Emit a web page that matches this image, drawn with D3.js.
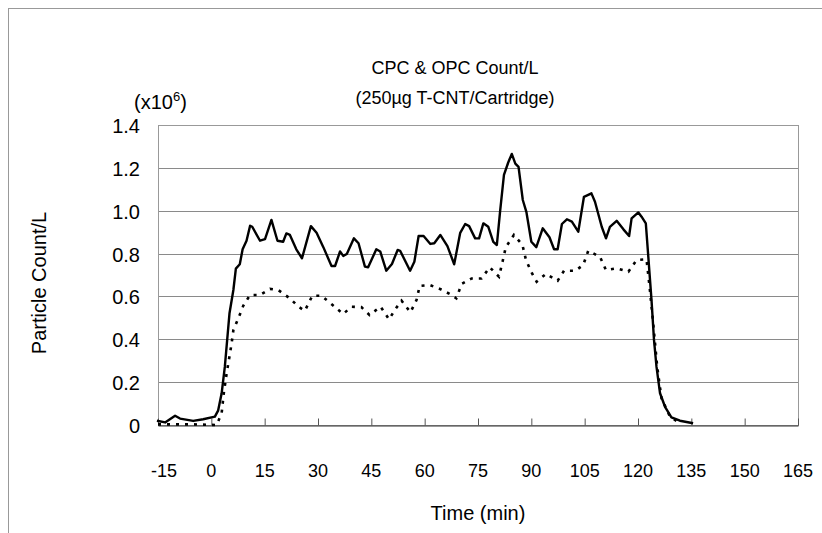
<!DOCTYPE html>
<html>
<head>
<meta charset="utf-8">
<script src="https://cdn.jsdelivr.net/npm/d3@7"></script>
<style>
	body { margin: 0; background: #fff; }
	text { font-family: Arial, "Liberation Sans", sans-serif; fill: #000; }
</style>
</head>
<body>
<div id="chart"></div>
<script>
// CPC (solid) readings: time in minutes, count in millions per litre
let cpcTime = [-15.3, -13, -10.2, -8.8, -5.1, -2.3, 1.0, 1.9, 2.9, 3.8, 5.1, 6.2, 6.9, 8.0, 8.8, 9.9, 10.9, 11.5,
	13.7, 15.1, 16.9, 18.6, 20.2, 21.1, 22.1, 23.9, 25.5, 28.0, 29.6, 31.5, 33.8, 34.8, 36.2, 37.1, 38.1,
	40.1, 41.4, 43.2, 44.1, 46.4, 47.5, 49.2, 50.8, 52.4, 53.1, 55.9, 57.1, 58.3, 59.7, 61.6, 62.7, 64.4,
	66.4, 68.3, 70.0, 71.4, 72.5, 74.2, 75.3, 76.5, 77.9, 79.3, 80.3, 81.2, 82.3, 83.5, 84.5, 85.5, 86.4,
	87.6, 88.6, 90.0, 91.4, 93.2, 95.1, 96.4, 97.4, 98.6, 100.0, 101.4, 103.2, 104.8, 106.9, 107.9, 109.8,
	111.0, 112.1, 114.0, 115.9, 117.5, 118.2, 120.1, 121.0, 122.2, 122.9, 123.8, 124.5, 125.2, 126.2,
	127.6, 129.4, 131.8, 135.5];
let cpcValue = [0.02, 0.012, 0.043, 0.03, 0.019, 0.027, 0.039, 0.067, 0.148, 0.272, 0.52, 0.63, 0.73, 0.75, 0.82, 0.86, 0.93, 0.925,
	0.86, 0.867, 0.957, 0.86, 0.855, 0.894, 0.887, 0.82, 0.778, 0.928, 0.897, 0.83, 0.742, 0.742, 0.81, 0.789, 0.798,
	0.871, 0.848, 0.739, 0.736, 0.82, 0.81, 0.72, 0.751, 0.817, 0.813, 0.72, 0.762, 0.882, 0.882, 0.845, 0.848, 0.887,
	0.835, 0.75, 0.897, 0.938, 0.928, 0.871, 0.871, 0.941, 0.925, 0.855, 0.84, 0.995, 1.167, 1.225, 1.265, 1.22, 1.205,
	1.05, 0.995, 0.855, 0.83, 0.918, 0.876, 0.82, 0.82, 0.938, 0.96, 0.949, 0.902, 1.065, 1.081, 1.042, 0.925,
	0.871, 0.925, 0.953, 0.913, 0.882, 0.964, 0.992, 0.972, 0.941, 0.785, 0.583, 0.397, 0.272, 0.148,
	0.085, 0.036, 0.02, 0.008];

// OPC (dotted) readings
let opcTime = [-15, -5, 1.5, 2.9, 3.5, 4.3, 5.1, 5.7, 6.2, 7.6, 9.0, 10.9, 13.7, 16.5, 18.8, 22.1, 24.5, 26.3, 28.4,
	31.0, 34.1, 37.1, 39.4, 42.2, 44.5, 47.6, 50.0, 51.6, 53.5, 56.0, 57.7, 58.6, 61.5, 64.3, 67.1, 68.9, 70.4,
	73.2, 76.0, 78.3, 80.9, 81.9, 82.8, 85.1, 87.5, 88.5, 90.1, 91.5, 94.1, 97.4, 99.2, 102.4, 104.6, 106.0,
	109.3, 111.0, 114.0, 117.3, 119.6, 122.4, 123.3, 124.1, 124.7, 125.4, 126.6, 129.0, 131.8];
let opcValue = [0.003, 0.003, 0.0, 0.055, 0.148, 0.24, 0.32, 0.38, 0.443, 0.498, 0.557, 0.607, 0.607, 0.635, 0.63, 0.591, 0.552, 0.533, 0.603,
	0.603, 0.56, 0.518, 0.552, 0.55, 0.513, 0.552, 0.493, 0.537, 0.58, 0.526, 0.583, 0.649, 0.653, 0.635, 0.611, 0.591, 0.658,
	0.684, 0.684, 0.736, 0.692, 0.762, 0.829, 0.887, 0.84, 0.77, 0.711, 0.669, 0.705, 0.673, 0.72, 0.72, 0.747, 0.813,
	0.785, 0.723, 0.731, 0.715, 0.77, 0.773, 0.638, 0.505, 0.397, 0.272, 0.125, 0.039, 0.008];

let xTicks = [-15, 0, 15, 30, 45, 60, 75, 90, 105, 120, 135, 150, 165];
let yTicks = [0, 0.2, 0.4, 0.6, 0.8, 1.0, 1.2, 1.4];

let width = 822;
let height = 533;
let plot = {left: 158, right: 798, top: 125, bottom: 425};

let xScale = d3.scaleLinear().domain([-15, 165]).range([plot.left, plot.right]);
let yScale = d3.scaleLinear().domain([0, 1.4]).range([plot.bottom, plot.top]);

let svg = d3.select('#chart')
		.append('svg')
		.attr('width', width)
		.attr('height', height);

// Outer chart frame (only top and left edges visible)
svg.append('rect')
		.attr('x', 8.5).attr('y', 8.5)
		.attr('width', 900).attr('height', 600)
		.attr('fill', 'none')
		.attr('stroke', '#999');

// Horizontal gridlines
svg.append('g').selectAll('line')
		.data(yTicks.slice(1))
		.enter().append('line')
		.attr('x1', plot.left).attr('x2', plot.right)
		.attr('y1', d => Math.round(yScale(d)) + 0.5)
		.attr('y2', d => Math.round(yScale(d)) + 0.5)
		.attr('stroke', '#8a8a8a');

// Plot frame
svg.append('rect')
		.attr('x', plot.left + 0.5).attr('y', plot.top + 0.5)
		.attr('width', plot.right - plot.left).attr('height', plot.bottom - plot.top)
		.attr('fill', 'none')
		.attr('stroke', '#999');

// Bottom axis with inward ticks
let xAxis = d3.axisBottom(xScale).tickValues(xTicks).tickSizeInner(-7).tickSizeOuter(0).tickFormat('');
svg.append('g')
		.attr('transform', 'translate(0,' + (plot.bottom + 0.5) + ')')
		.call(xAxis)
		.call(g => g.selectAll('line').attr('stroke', '#555'))
		.call(g => g.select('.domain').attr('stroke', '#333'));

// X tick labels
svg.append('g').selectAll('text')
		.data(xTicks)
		.enter().append('text')
		.attr('x', d => xScale(d) + (d < 0 ? 6 : 0))
		.attr('y', 477)
		.attr('text-anchor', 'middle')
		.style('font-size', '18px')
		.text(d => d);

// Y tick labels
svg.append('g').selectAll('text')
		.data(yTicks)
		.enter().append('text')
		.attr('x', 140)
		.attr('y', d => yScale(d) + 8)
		.attr('text-anchor', 'end')
		.style('font-size', '20px')
		.text(d => d === 0 ? '0' : d3.format('.1f')(d));

// Lines
let line = d3.line()
		.x(d => xScale(d[0]))
		.y(d => yScale(d[1]));

svg.append('path')
		.datum(opcTime.map((t, i) => [t, opcValue[i]]))
		.attr('d', line)
		.attr('fill', 'none')
		.attr('stroke', '#000')
		.attr('stroke-width', 2.6)
		.attr('stroke-dasharray', '3,6');

svg.append('path')
		.datum(cpcTime.map((t, i) => [t, cpcValue[i]]))
		.attr('d', line)
		.attr('fill', 'none')
		.attr('stroke', '#000')
		.attr('stroke-width', 2.4)
		.attr('stroke-linejoin', 'round');

// Titles
svg.append('text')
		.attr('x', 455).attr('y', 74)
		.attr('text-anchor', 'middle')
		.style('font-size', '18px')
		.text('CPC & OPC Count/L');
svg.append('text')
		.attr('x', 455).attr('y', 104)
		.attr('text-anchor', 'middle')
		.style('font-size', '18px')
		.text('(250µg T-CNT/Cartridge)');

let unit = svg.append('text')
		.attr('x', 134).attr('y', 109)
		.style('font-size', '20px')
		.text('(x10');
unit.append('tspan').attr('dy', -8).style('font-size', '13px').text('6');
unit.append('tspan').attr('dy', 8).text(')');

svg.append('text')
		.attr('transform', 'translate(46,283) rotate(-90)')
		.attr('text-anchor', 'middle')
		.style('font-size', '20px')
		.text('Particle Count/L');

svg.append('text')
		.attr('x', 478).attr('y', 520)
		.attr('text-anchor', 'middle')
		.style('font-size', '20px')
		.text('Time (min)');
</script>
</body>
</html>
